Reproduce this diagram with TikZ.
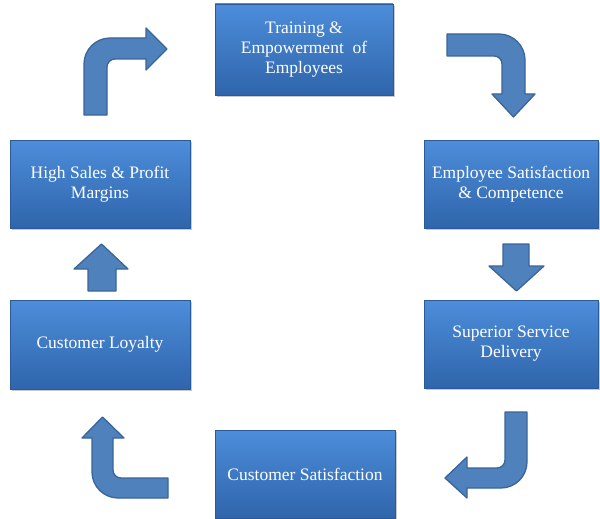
\documentclass[tikz,border=0pt]{standalone}
\usepackage{fontspec}
\setmainfont{Liberation Serif}
\usetikzlibrary{shadows}

\definecolor{boxtop}{HTML}{4D8DDA}
\definecolor{boxbot}{HTML}{2F65AB}
\definecolor{boxline}{HTML}{2A5A98}
\definecolor{arrowfill}{HTML}{4F81BD}
\definecolor{arrowline}{HTML}{3A6597}

\tikzset{
  stagebox/.style={rectangle, draw=boxline, line width=0.6pt,
    top color=boxtop, bottom color=boxbot, text=white,
    align=center, inner sep=2pt,
    font=\fontsize{17.5}{20}\selectfont,
    drop shadow={shadow xshift=1.5pt, shadow yshift=-2pt, opacity=0.35, fill=black!60}},
  blockarrow/.style={fill=arrowfill, draw=arrowline, line width=1.3pt, line join=round}
}

\begin{document}
\begin{tikzpicture}[x=1pt, y=-1pt]
\useasboundingbox (0,0) rectangle (600,519);

% the six stages of the cycle
\node[stagebox, minimum width=178pt, minimum height=91pt] (train) at (304,49.5)
  {Training \&\\Empowerment\ \ of\\Employees};
\node[stagebox, minimum width=174pt, minimum height=88pt] (empsat) at (511,184)
  {Employee Satisfaction\\\& Competence};
\node[stagebox, minimum width=174pt, minimum height=88pt] (service) at (511,344)
  {Superior Service\\Delivery};
\node[stagebox, minimum width=180pt, minimum height=88pt] (custsat) at (305,474)
  {Customer Satisfaction};
\node[stagebox, minimum width=180pt, minimum height=89pt] (loyal) at (100,344.5)
  {Customer Loyalty};
\node[stagebox, minimum width=180pt, minimum height=88pt] (sales) at (100,184)
  {High Sales \& Profit\\Margins};

% bent arrow: sales -> training
\draw[blockarrow] (84,115) -- (84,64) .. controls (84,49.7) and (95.7,38) .. (110,38)
  -- (146,38) -- (146,28) -- (167,49) -- (146,70) -- (146,59) -- (115,59)
  .. controls (110.6,59) and (107,62.6) .. (107,67) -- (107,115) -- cycle;

% bent arrow: training -> employee satisfaction
\draw[blockarrow] (447,34) -- (499,34) .. controls (513.3,34) and (525,45.7) .. (525,60)
  -- (525,94) -- (535,94) -- (513.5,117) -- (492,94) -- (502,94) -- (502,64)
  .. controls (502,59.6) and (498.4,56) .. (494,56) -- (447,56) -- cycle;

% straight arrow: employee satisfaction -> service
\draw[blockarrow] (503,244) -- (529,244) -- (529,266) -- (544,266) -- (516.5,291)
  -- (489,266) -- (503,266) -- cycle;

% bent arrow: service -> customer satisfaction
\draw[blockarrow] (505,412) -- (527,412) -- (527,462) .. controls (527,476.3) and (515.3,488) .. (501,488)
  -- (467,488) -- (467,498) -- (445,478) -- (467,457) -- (467,468) -- (497,468)
  .. controls (501.4,468) and (505,464.4) .. (505,460) -- cycle;

% bent arrow: customer satisfaction -> loyalty
\draw[blockarrow] (168,478) -- (168,498) -- (118,498) .. controls (103.7,498) and (92,486.3) .. (92,472)
  -- (92,438) -- (82,438) -- (102.5,417) -- (124,438) -- (113,438) -- (113,470)
  .. controls (113,474.4) and (116.6,478) .. (121,478) -- cycle;

% straight arrow: loyalty -> sales
\draw[blockarrow] (88,291) -- (88,269) -- (74,269) -- (101.5,244) -- (128,269)
  -- (116,269) -- (116,291) -- cycle;
\end{tikzpicture}
\end{document}
